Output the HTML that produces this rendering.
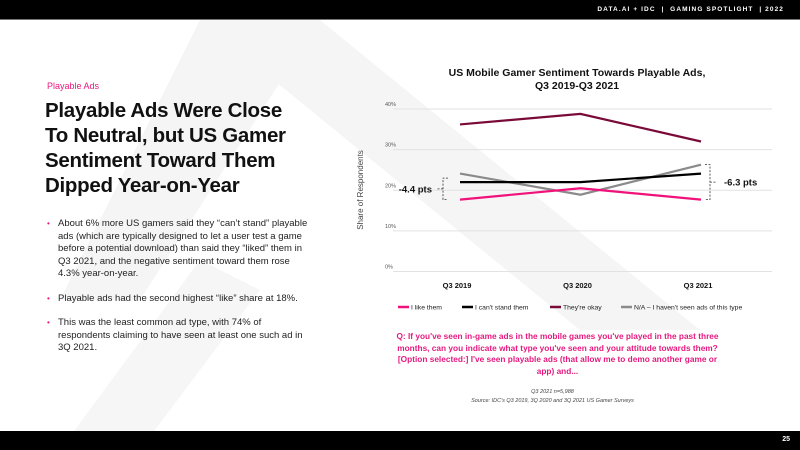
<!DOCTYPE html>
<html><head><meta charset="utf-8">
<style>
*{margin:0;padding:0;box-sizing:border-box}
body{width:800px;height:450px;position:relative;overflow:hidden;background:#fff;font-family:"Liberation Sans","DejaVu Sans",sans-serif;color:#111}
.hdr{position:absolute;left:0;top:0;width:800px;height:20px;background:#000;border-bottom:1px solid #777}
.hdr span{position:absolute;right:16px;top:6px;color:#fff;font-size:6.5px;letter-spacing:1.1px;font-weight:bold}
.ftr{position:absolute;left:0;top:431px;width:800px;height:19px;background:#000}
.ftr span{position:absolute;right:10px;top:5px;color:#fff;font-size:7px;font-weight:bold}
.tag{position:absolute;left:47px;top:81px;font-size:9px;color:#e6197f}
h1{position:absolute;left:45px;top:98px;width:250px;font-size:20.5px;line-height:25px;font-weight:bold;letter-spacing:-0.3px}
ul{position:absolute;left:47px;top:218px;width:262px;list-style:none;font-size:9.5px;line-height:12.5px;color:#222}
li{position:relative;padding-left:11px;margin-bottom:12px}
li:before{content:"•";color:#e6197f;position:absolute;left:0;top:0;font-size:8px}
.q{position:absolute;left:395px;top:331px;width:325px;text-align:center;color:#e6197f;font-size:8.3px;font-weight:bold;line-height:11.5px}
.src{position:absolute;left:400px;top:388px;width:305px;text-align:center;color:#444;font-size:5.5px;font-style:italic;line-height:9px}
</style></head><body>
<svg width="800" height="450" style="position:absolute;left:0;top:0">
<polygon points="200,20 320,20 700,330 580,330" fill="#f5f5f5"/>
<polygon points="200,20 320,20 140,300 60,300" fill="#f5f5f5"/>
<polygon points="60,450 200,260 260,290 140,450" fill="#f6f6f6"/>
</svg>
<div class="hdr"><span>DATA.AI + IDC &nbsp;| &nbsp;GAMING SPOTLIGHT &nbsp;| 2022</span></div>
<div class="tag">Playable Ads</div>
<h1>Playable Ads Were Close To Neutral, but US Gamer Sentiment Toward Them Dipped Year-on-Year</h1>
<ul>
<li>About 6% more US gamers said they “can’t stand” playable ads (which are typically designed to let a user test a game before a potential download) than said they “liked” them in Q3 2021, and the negative sentiment toward them rose 4.3% year-on-year.</li>
<li>Playable ads had the second highest “like” share at 18%.</li>
<li>This was the least common ad type, with 74% of respondents claiming to have seen at least one such ad in 3Q 2021.</li>
</ul>
<svg id="chart" width="800" height="450" style="position:absolute;left:0;top:0"></svg>
<div class="q">Q: If you've seen in-game ads in the mobile games you've played in the past three months, can you indicate what type you've seen and your attitude towards them? [Option selected:] I've seen playable ads (that allow me to demo another game or app) and...</div>
<div class="src">Q3 2021 n=5,988<br>Source: IDC's Q3 2019, 3Q 2020 and 3Q 2021 US Gamer Surveys</div>
<div class="ftr"><span>25</span></div>
<script>
const categories=["Q3 2019","Q3 2020","Q3 2021"];
const yTicks=[0,10,20,30,40];
const seriesNames=["I like them","I can't stand them","They're okay","N/A – I haven't seen ads of this type"];
const seriesColors=["#f0117a","#000000","#7a0a38","#8a8a8a"];
const likeVals=[17.7,20.5,17.7];
const cantStandVals=[22,22,24.1];
const okayVals=[36.2,38.8,32];
const naVals=[24.1,18.9,26.3];
const allSeries=[likeVals,cantStandVals,okayVals,naVals];
const NS="http://www.w3.org/2000/svg";
const svg=document.getElementById('chart');
function mk(t,a,p){const e=document.createElementNS(NS,t);for(const k in a)e.setAttribute(k,a[k]);(p||svg).appendChild(e);return e;}
const y0=271.5,y40=109;
function y(v){return y0-(v/40)*(y0-y40);}
function x(i){return 460+i*120.5;}
const t=mk('text',{x:577,y:76,'text-anchor':'middle','font-size':'10.5','font-weight':'bold',fill:'#111'});t.textContent="US Mobile Gamer Sentiment Towards Playable Ads,";

const t2=mk('text',{x:577,y:89,'text-anchor':'middle','font-size':'10.5','font-weight':'bold',fill:'#111'});t2.textContent="Q3 2019-Q3 2021";

yTicks.forEach(v=>{
 const g=mk('line',{x1:393,x2:772,y1:y(v),y2:y(v),stroke:'#e2e2e2','stroke-width':1});
 
 const l=mk('text',{x:385,y:y(v)-3,'font-size':'5.5',fill:'#555'});l.textContent=v+'%';
 
});
const yt=mk('text',{x:0,y:0,'font-size':'8',fill:'#444','text-anchor':'middle',transform:'translate(363,190) rotate(-90)'});yt.textContent="Share of Respondents";

categories.forEach((c,i)=>{
 const l=mk('text',{x:x(i)-3,y:288,'text-anchor':'middle','font-size':'7.5','font-weight':'bold',fill:'#111'});l.textContent=c;
 
});
[2,3,1,0].forEach(s=>{
 const p=mk('polyline',{points:allSeries[s].map((v,i)=>x(i)+','+y(v)).join(' '),fill:'none',stroke:seriesColors[s],'stroke-width':2.2});
 
});
function bracket(xx,ya,yb,dir,label,lx,anchor){
 const d='M'+(xx-5*dir)+','+ya+' H'+xx+' V'+yb+' H'+(xx-5*dir);
 const b=mk('path',{d:d,fill:'none',stroke:'#333','stroke-width':0.8,'stroke-dasharray':'2,1.5'});
 
 const m=(ya+yb)/2;
 mk('line',{x1:xx,x2:xx+6*dir,y1:m,y2:m,stroke:'#333','stroke-width':0.8,'stroke-dasharray':'2,1.5'});
 const tx=mk('text',{x:lx,y:m+3.5,'font-size':'9.5','font-weight':'bold',fill:'#111','text-anchor':anchor});tx.textContent=label;
 
}
bracket(443,y(cantStandVals[0])-4,y(likeVals[0]),-1,"-4.4 pts",432,'end');
bracket(710,y(naVals[2]),y(likeVals[2]),1,"-6.3 pts",724,'start');
const lx=[398,462,550,621];
seriesNames.forEach((n,i)=>{
 const l=mk('line',{x1:lx[i],x2:lx[i]+11,y1:307,y2:307,stroke:seriesColors[i],'stroke-width':2.5});
 
 const tx=mk('text',{x:lx[i]+13,y:309.5,'font-size':'6.8',fill:'#222'});tx.textContent=n;
 
});
</script>
</body></html>
